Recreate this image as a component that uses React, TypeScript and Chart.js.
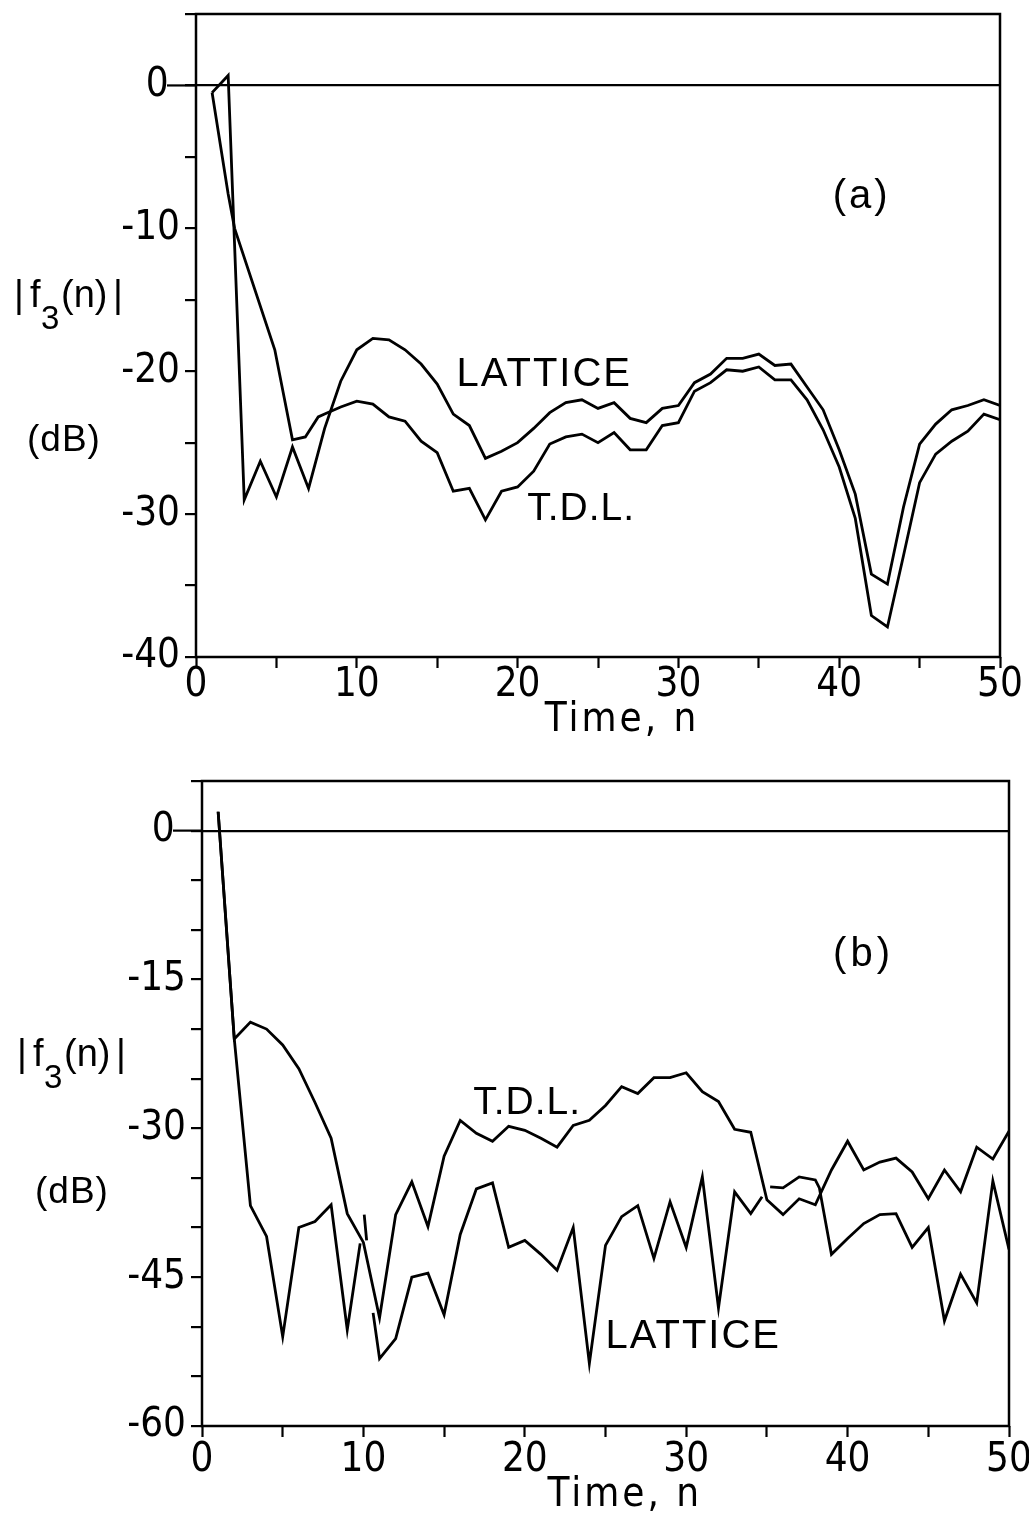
import React, { useEffect, useRef } from 'react';
import { Chart, registerables } from 'chart.js';

Chart.register(...registerables);

const SANS = '"Liberation Sans", Arial, sans-serif';
const NARROW = '"Liberation Sans Narrow", "DejaVu Sans Condensed", "Liberation Sans", sans-serif';

// ---------- Panel (a) ----------
const aLatticeN = [
  1, 2, 3, 4, 5, 6, 7, 8, 9, 10,
  11, 12, 13, 14, 15, 16, 17, 18, 19, 20,
  21, 22, 23, 24, 25, 26, 27, 28, 29, 30,
  31, 32, 33, 34, 35, 36, 37, 38, 39, 40,
  41, 42, 43, 44, 45, 46, 47, 48, 49, 50,
];
const aLatticeDb = [
  -0.5, 0.7, -29.0, -26.3, -28.8, -25.3, -28.2, -24.0, -20.7, -18.5,
  -17.7, -17.8, -18.5, -19.5, -20.9, -23.0, -23.8, -26.1, -25.6, -25.0,
  -24.0, -22.9, -22.2, -22.0, -22.6, -22.2, -23.3, -23.6, -22.6, -22.4,
  -20.8, -20.2, -19.1, -19.1, -18.8, -19.6, -19.5, -21.1, -22.7, -25.5,
  -28.6, -34.2, -34.9, -29.5, -25.1, -23.7, -22.7, -22.4, -22.0, -22.4,
];
const aTdlN = [
  1, 2, 2.4, 4.9, 6.0, 6.8, 7.6, 8, 9, 10,
  11, 12, 13, 14, 15, 16, 17, 18, 19, 20,
  21, 22, 23, 24, 25, 26, 27, 28, 29, 30,
  31, 32, 33, 34, 35, 36, 37, 38, 39, 40,
  41, 42, 43, 44, 45, 46, 47, 48, 49, 50,
];
const aTdlDb = [
  -0.5, -7.6, -10.0, -18.5, -24.8, -24.6, -23.2, -23.0, -22.5, -22.1,
  -22.3, -23.2, -23.5, -24.9, -25.7, -28.4, -28.2, -30.4, -28.4, -28.1,
  -27.0, -25.1, -24.6, -24.4, -25.0, -24.3, -25.5, -25.5, -23.8, -23.6,
  -21.4, -20.8, -19.9, -20.0, -19.7, -20.6, -20.6, -22.0, -24.1, -26.7,
  -30.3, -37.1, -37.9, -32.9, -27.8, -25.8, -24.9, -24.2, -23.0, -23.4,
];

// ---------- Panel (b) ----------
const bTdlN = [
  1, 2, 3, 4, 5, 6, 7, 8, 9, 10,
  11, 12, 13, 14, 15, 16, 17, 18, 19, 20,
  21, 22, 23, 24, 25, 26, 27, 28, 29, 30,
  31, 32, 33, 34, 35, 36, 37, 38, 39, 40,
  41, 42, 43, 44, 45, 46, 47, 48, 49, 50,
];
const bTdlDb = [
  1.9, -21.0, -19.3, -20.0, -21.6, -24.0, -27.4, -31.0, -38.6, -41.5,
  -49.1, -38.7, -35.4, -39.9, -32.8, -29.2, -30.5, -31.3, -29.8, -30.2,
  -31.0, -31.9, -29.7, -29.2, -27.7, -25.8, -26.5, -24.9, -24.9, -24.4,
  -26.3, -27.3, -30.1, -30.4, -37.2, -38.7, -37.1, -37.7, -34.2, -31.3,
  -34.2, -33.4, -33.0, -34.4, -37.1, -34.2, -36.4, -31.9, -33.1, -30.3,
];
const bLatticeN = [
  1, 2, 3, 4, 5, 6, 7, 8, 9, 9.8,
  9.9, 10.05, 10.2, 10.4, 10.6, 11, 12, 13, 14, 15,
  16, 17, 18, 19, 20, 21, 22, 23, 24, 25,
  26, 27, 28, 29, 30, 31, 32, 33, 34, 34.7,
  34.95, 35.2, 36, 37, 38, 38.25, 39, 40, 41, 42,
  43, 44, 45, 46, 47, 48, 49, 50,
];
const bLatticeDb = [
  1.9, -21.0, -37.8, -40.9, -51.0, -40.0, -39.4, -37.7, -50.3, -41.6,
  null, -38.7, -41.3, null, -48.6, -53.2, -51.2, -45.0, -44.6, -48.8,
  -40.7, -36.1, -35.5, -42.0, -41.3, -42.7, -44.3, -40.0, -53.7, -41.8,
  -38.9, -37.8, -43.1, -37.4, -42.0, -34.9, -48.1, -36.4, -38.6, -36.9,
  null, -35.9, -36.0, -34.9, -35.2, -36.0, -42.7, -41.1, -39.6, -38.7,
  -38.6, -42.0, -40.0, -49.4, -44.7, -47.6, -35.3, -42.2,
];

const xTickValues = [0, 10, 20, 30, 40, 50];
const aYLabelStep = 10;
const bYLabelStep = 15;

type Note = { text: string; n: number; db: number; size: number; spacing: number };

const aNotes: Note[] = [
  { text: 'LATTICE', n: 16.2, db: -21.0, size: 40, spacing: 2 },
  { text: 'T.D.L.', n: 20.6, db: -30.4, size: 39, spacing: 1 },
  { text: '(a)', n: 39.6, db: -8.6, size: 40, spacing: 3 },
];
const bNotes: Note[] = [
  { text: 'T.D.L.', n: 16.8, db: -28.6, size: 39, spacing: 1 },
  { text: 'LATTICE', n: 25.0, db: -52.1, size: 40, spacing: 2 },
  { text: '(b)', n: 39.1, db: -13.6, size: 40, spacing: 4 },
];

type PanelCfg = {
  lattice: { n: number[]; db: (number | null)[] };
  tdl: { n: number[]; db: (number | null)[] };
  yMin: number;
  yMax: number;
  labelStep: number;
  notes: Note[];
  padding: { left: number; right: number; top: number; bottom: number };
  xHeight: number;
  xLabelPad: number;
  timeN: number;
  timeDrop: number;
  titleX: number;
  titleBase: number;
  dbX: number;
  dbBase: number;
};

function pts(n: number[], db: (number | null)[]) {
  return n.map((x, i) => ({ x, y: db[i] }));
}

function makeDecor(cfg: PanelCfg) {
  return {
    id: 'decor',
    afterDraw(chart: any) {
      const { ctx, chartArea: a, scales } = chart;
      ctx.save();
      ctx.strokeStyle = '#000';
      ctx.lineWidth = 2.5;
      ctx.strokeRect(a.left, a.top, a.right - a.left, a.bottom - a.top);
      // longer tick at the 0 dB level, joining its label
      const y0 = scales.y.getPixelForValue(0);
      ctx.lineWidth = 2.2;
      ctx.beginPath();
      ctx.moveTo(a.left - 29, y0);
      ctx.lineTo(a.left, y0);
      ctx.stroke();

      ctx.fillStyle = '#000';
      ctx.textAlign = 'left';
      ctx.textBaseline = 'alphabetic';
      for (const nt of cfg.notes) {
        ctx.font = `${nt.size}px ${SANS}`;
        (ctx as any).letterSpacing = `${nt.spacing}px`;
        ctx.fillText(nt.text, scales.x.getPixelForValue(nt.n), scales.y.getPixelForValue(nt.db));
      }
      // x axis title
      ctx.font = `40px ${NARROW}`;
      (ctx as any).letterSpacing = '3px';
      ctx.textAlign = 'center';
      ctx.fillText('Time, n', scales.x.getPixelForValue(cfg.timeN), a.bottom + cfg.timeDrop);
      // y axis title |f3(n)|  (dB)
      ctx.textAlign = 'left';
      (ctx as any).letterSpacing = '0px';
      ctx.font = `38px ${SANS}`;
      const tx = cfg.titleX;
      const tb = cfg.titleBase;
      ctx.fillText('|', tx, tb);
      ctx.fillText('f', tx + 16, tb);
      ctx.fillText('(n)', tx + 47, tb);
      ctx.fillText('|', tx + 99, tb);
      ctx.font = `33px ${SANS}`;
      ctx.fillText('3', tx + 27, tb + 22);
      ctx.font = `37px ${SANS}`;
      (ctx as any).letterSpacing = '1px';
      ctx.fillText('(dB)', cfg.dbX, cfg.dbBase);
      ctx.restore();
    },
  };
}

function Panel({ cfg }: { cfg: PanelCfg }) {
  const ref = useRef<HTMLCanvasElement | null>(null);
  useEffect(() => {
    if (!ref.current) return;
    const chart = new Chart(ref.current, {
      type: 'line',
      data: {
        datasets: [
          {
            label: 'LATTICE',
            data: pts(cfg.lattice.n, cfg.lattice.db) as any,
            borderColor: '#000',
            borderWidth: 2.8,
            pointRadius: 0,
            tension: 0,
            spanGaps: false,
            fill: false,
          },
          {
            label: 'T.D.L.',
            data: pts(cfg.tdl.n, cfg.tdl.db) as any,
            borderColor: '#000',
            borderWidth: 2.8,
            pointRadius: 0,
            tension: 0,
            spanGaps: false,
            fill: false,
          },
        ],
      },
      options: {
        animation: false,
        responsive: false,
        devicePixelRatio: 1,
        layout: { padding: cfg.padding },
        plugins: { legend: { display: false }, tooltip: { enabled: false }, title: { display: false } },
        scales: {
          x: {
            type: 'linear',
            min: 0,
            max: 50,
            afterFit: (s: any) => {
              s.height = cfg.xHeight;
              s.paddingLeft = 0;
              s.paddingRight = 0;
            },
            border: { display: false },
            grid: {
              drawOnChartArea: false,
              drawTicks: true,
              tickLength: 11,
              tickColor: '#000',
              tickWidth: 2.2,
            },
            ticks: {
              stepSize: 5,
              autoSkip: false,
              maxRotation: 0,
              padding: cfg.xLabelPad,
              color: '#000',
              font: { family: NARROW, size: 40 },
              callback: (v: any) => (xTickValues.includes(Number(v)) ? String(v) : ''),
            },
          },
          y: {
            type: 'linear',
            min: cfg.yMin,
            max: cfg.yMax,
            afterFit: (s: any) => {
              s.width = 100;
              s.paddingTop = 0;
              s.paddingBottom = 0;
            },
            border: { display: false },
            grid: {
              drawTicks: true,
              tickLength: 11,
              tickColor: '#000',
              tickWidth: 2.2,
              lineWidth: 2.2,
              color: (c: any) => (c.tick && c.tick.value === 0 ? '#000' : 'rgba(0,0,0,0)'),
            },
            ticks: {
              stepSize: 5,
              autoSkip: false,
              padding: 5,
              color: '#000',
              font: { family: NARROW, size: 40 },
              callback: (v: any) => {
                const n = Number(v);
                if (n === 0) return '0 ';
                return n < 0 && n % cfg.labelStep === 0 ? String(n) : '';
              },
            },
          },
        },
      },
      plugins: [makeDecor(cfg)],
    });
    return () => chart.destroy();
  }, [cfg]);
  return <canvas ref={ref} width={1029} height={765} style={{ display: 'block', width: 1029, height: 765 }} />;
}

const panelA: PanelCfg = {
  lattice: { n: aLatticeN, db: aLatticeDb },
  tdl: { n: aTdlN, db: aTdlDb },
  yMin: -40,
  yMax: 5,
  labelStep: aYLabelStep,
  notes: aNotes,
  padding: { left: 96, right: 29, top: 14, bottom: 0 },
  xHeight: 108,
  xLabelPad: -6,
  timeN: 26.5,
  timeDrop: 74,
  titleX: 14,
  titleBase: 307,
  dbX: 27,
  dbBase: 451,
};

const panelB: PanelCfg = {
  lattice: { n: bLatticeN, db: bLatticeDb },
  tdl: { n: bTdlN, db: bTdlDb },
  yMin: -60,
  yMax: 5,
  labelStep: bYLabelStep,
  notes: bNotes,
  padding: { left: 102, right: 20, top: 16, bottom: 0 },
  xHeight: 104,
  xLabelPad: 0,
  timeN: 26.2,
  timeDrop: 80,
  titleX: 17,
  titleBase: 301,
  dbX: 35,
  dbBase: 438,
};

export default function App() {
  return (
    <div style={{ position: 'absolute', left: 0, top: 0, width: 1029, height: 1530, background: '#fff' }}>
      <Panel cfg={panelA} />
      <Panel cfg={panelB} />
    </div>
  );
}
